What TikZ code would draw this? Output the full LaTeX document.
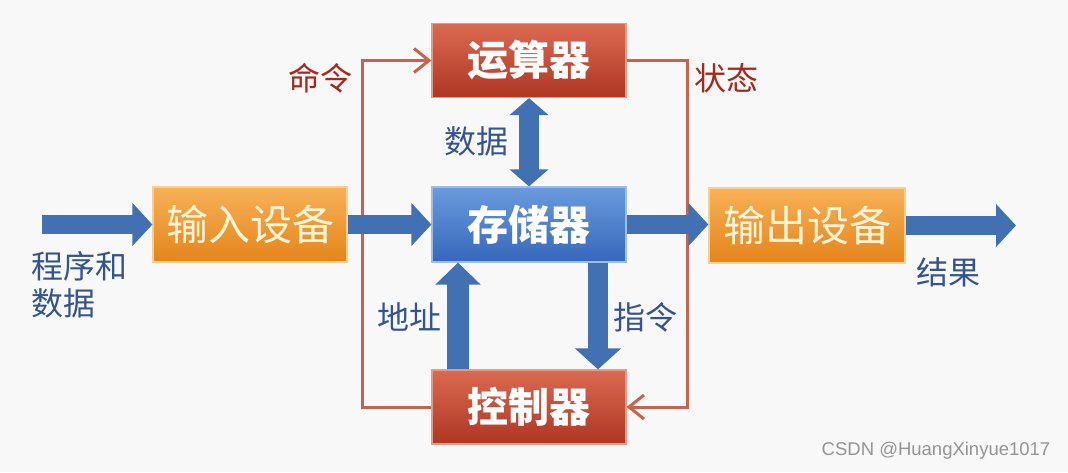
\documentclass[tikz,border=0pt]{standalone}
\usepackage{fontspec}
\setmainfont{Liberation Sans}
\newfontfamily\cjk{Noto Sans CJK SC}
\usetikzlibrary{arrows.meta}
\definecolor{bgc}{HTML}{F8F8F8}
\definecolor{redtop}{HTML}{DB6A52}
\definecolor{redbot}{HTML}{AE3623}
\definecolor{redrim}{HTML}{E79A86}
\definecolor{bluetop}{HTML}{6A9BDD}
\definecolor{bluebot}{HTML}{3568BC}
\definecolor{bluerim}{HTML}{9DBDE8}
\definecolor{ortop}{HTML}{F7B157}
\definecolor{orbot}{HTML}{E5841A}
\definecolor{orrim}{HTML}{F9CF8E}
\definecolor{ortext}{HTML}{FFF4D8}
\definecolor{fatblue}{HTML}{4271B3}
\definecolor{linered}{HTML}{C8634F}
\definecolor{labred}{HTML}{A5291C}
\definecolor{labblue}{HTML}{34548F}
\begin{document}
\begin{tikzpicture}[x=1pt,y=-1pt,
  box/.style={minimum width=194pt, minimum height=74pt, inner sep=0pt, line width=1.2pt},
  redbox/.style={box, top color=redtop, bottom color=redbot, draw=redrim, text=white,
    font=\cjk\bfseries\fontsize{41}{44}\selectfont},
  bluebox/.style={box, top color=bluetop, bottom color=bluebot, draw=bluerim, text=white,
    font=\cjk\bfseries\fontsize{41}{44}\selectfont},
  orbox/.style={box, top color=ortop, bottom color=orbot, draw=orrim, text=ortext,
    font=\cjk\fontsize{42}{44}\selectfont},
  fat/.style={draw=fatblue, line width=19pt, -{Triangle[length=20pt,width=42pt]}},
  fatdouble/.style={draw=fatblue, line width=20pt,
    {Triangle[length=17pt,width=38pt]}-{Triangle[length=17pt,width=38pt]}},
  ctlline/.style={draw=linered, line width=3pt, line join=miter,
    -{Straight Barb[length=15pt,width=24pt]}},
  redlabel/.style={text=labred, font=\cjk\fontsize{32}{37}\selectfont, inner sep=0pt},
  bluelabel/.style={text=labblue, font=\cjk\fontsize{32}{37}\selectfont, inner sep=0pt},
]
\fill[bgc] (0,0) rectangle (1068,472);
\useasboundingbox (0,0) rectangle (1068,472);

% boxes
\node[redbox] (alu) at (529,60.5) {运算器};
\node[bluebox, minimum height=75pt] (mem) at (529,224.5) {存储器};
\node[redbox] (ctrl) at (529,407) {控制器};
\node[orbox, minimum height=75pt] (inp) at (250,224.5) {输入设备};
\node[orbox, minimum width=196pt, minimum height=75pt] (outp) at (807,225.5) {输出设备};

% free ends and corners
\coordinate (src) at (42,224.5);
\coordinate (dst) at (1016,225.5);
\coordinate (L) at (362,0);
\coordinate (R) at (687,0);

% control lines
\draw[ctlline] (ctrl.west) -- (ctrl.west -| L) -- (alu.west -| L) -- (alu.west);
\draw[ctlline] (alu.east) -- (alu.east -| R) -- (ctrl.east -| R) -- (ctrl.east);

% fat arrows
\draw[fat] (src) -- (inp.west);
\draw[fat] (inp.east) -- (mem.west);
\draw[fat] (mem.east) -- (outp.west |- mem.east);
\draw[fat] (outp.east) -- (dst);
\draw[fatdouble] (alu.south) -- (mem.north);
\draw[fat, line width=22pt, -{Triangle[length=22pt,width=44pt]}]
  ([xshift=-71pt]ctrl.north) -- ([xshift=-71pt]mem.south);
\draw[fat, line width=20pt, -{Triangle[length=21pt,width=45pt]}]
  ([xshift=69pt]mem.south) -- ([xshift=69pt]ctrl.north);

% labels
\node[redlabel] (lcmd) at (320,78) {命令};
\node[redlabel] (lstat) at (726,78) {状态};
\node[bluelabel] (ldata) at (476,141) {数据};
\node[bluelabel, align=left] (lprog) at (79,285) {程序和\\数据};
\node[bluelabel] (laddr) at (409,317) {地址};
\node[bluelabel] (linst) at (645,317) {指令};
\node[bluelabel] (lres) at (948,272) {结果};

\node[text=black!42, font=\fontsize{18.5}{20}\selectfont, inner sep=0pt] (wm) at (936,451) {CSDN @HuangXinyue1017};
\end{tikzpicture}
\end{document}
